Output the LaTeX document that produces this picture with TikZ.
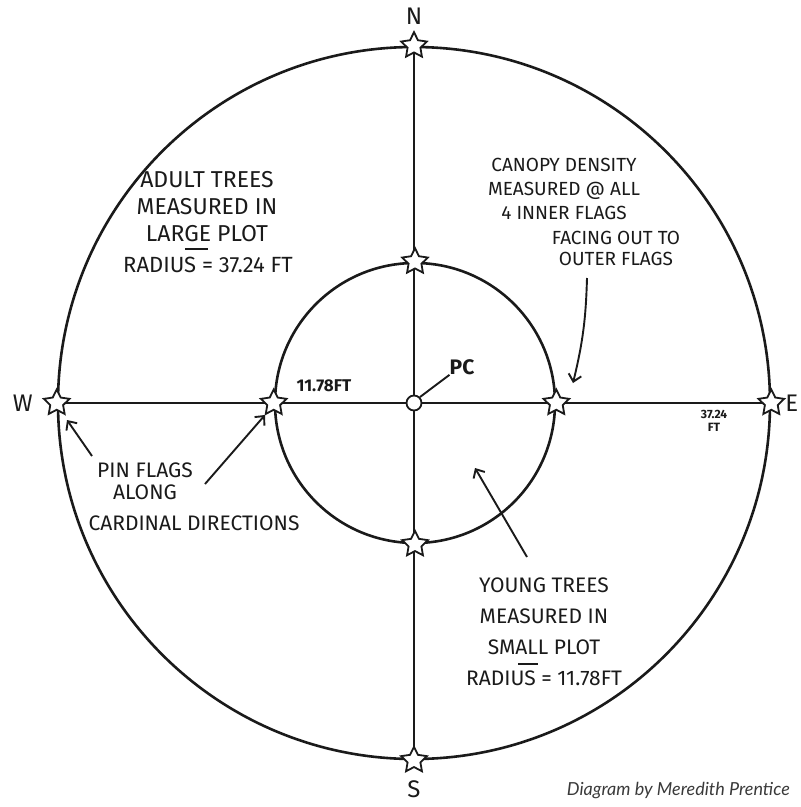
\documentclass[tikz,border=0pt]{standalone}
\usepackage{fontspec}
\setmainfont{Fira Sans}
\newfontfamily\footfont{Lato}
\usepackage{tikz}
\usetikzlibrary{arrows.meta,positioning,shapes.geometric}
\definecolor{plotink}{HTML}{1A1A1A}
\definecolor{plotgrey}{HTML}{3A3A3A}

\begin{document}
\begin{tikzpicture}[
  x=1pt,y=-1pt,
  ring/.style={draw=plotink,circle,line width=2.6pt,inner sep=0pt},
  axis/.style={draw=plotink,line width=1.9pt},
  flag/.style={draw=plotink,fill=white,star,star points=5,star point ratio=2.0,minimum size=27pt,inner sep=0pt,line width=1.8pt},
  note/.style={text=plotink,align=center,inner sep=0pt,font=\fontsize{21}{24}\selectfont},
  dir/.style={text=plotink,inner sep=0pt,font=\fontsize{24}{24}\selectfont},
  dim/.style={text=plotink,align=center,inner sep=0pt,font=\bfseries\fontsize{12}{13}\selectfont},
  arr/.style={-{Straight Barb[length=7pt,width=13pt]},line width=1.9pt,draw=plotink}
]
\useasboundingbox (0,0) rectangle (801,807);
% plot rings and cardinal lines
\node[ring,minimum size=712pt] (outer) at (414,403) {};
\node[ring,minimum size=280pt] (inner) at (415,403) {};
\draw[axis] (outer.north) -- (outer.south);
\draw[axis] (outer.west) -- (outer.east);
% pin flags
\node[flag] (on) at (outer.north) {};
\node[flag] (os) at (outer.south) {};
\node[flag] (ow) at (outer.west) {};
\node[flag] (oe) at (outer.east) {};
\node[flag] (inn) at (inner.north) {};
\node[flag] (ins) at (inner.south) {};
\node[flag] (inw) at (inner.west) {};
\node[flag] (ine) at (inner.east) {};
\node[draw=plotink,fill=white,circle,minimum size=15pt,inner sep=0pt,line width=1.8pt] (pc) at (414,403) {};
% directions
\node[dir,above=5pt of on] {N};
\node[dir,below=12pt of os] {S};
\node[dir,left=14pt of ow] {W};
\node[dir,right=4pt of oe] {E};
% radii and centre
\node[dim,font=\bfseries\fontsize{17}{17}\selectfont] (rsmall) at (324,386) {11.78FT};
\node[dim] (rlarge) at (714,421) {37.24\\FT};
\node[dir,font=\bfseries\fontsize{21}{21}\selectfont] (pclbl) at (462,367) {PC};
\draw[axis] (pclbl.south west) -- (pc.north east);
% notes
\node[note,font=\fontsize{23}{27}\selectfont] (adult) at (207,207) {ADULT TREES\\MEASURED IN\\LARGE PLOT};
\node[note,font=\fontsize{22}{22}\selectfont] (adultr) at (208,265) {RADIUS = 37.24 FT};
\draw[axis,line width=1.5pt] (185,249) -- (208,249);
\node[note,font=\fontsize{19}{24}\selectfont] (canopy) at (564,189) {CANOPY DENSITY\\MEASURED @ ALL\\4 INNER FLAGS};
\node[note,font=\fontsize{19}{21}\selectfont] (canopyb) at (616,248) {FACING OUT TO\\OUTER FLAGS};
\node[note,font=\fontsize{21}{22}\selectfont] (pins) at (145,481) {PIN FLAGS\\ALONG};
\node[note] (pinsb) at (194,523) {CARDINAL DIRECTIONS};
\node[note,font=\fontsize{21}{31}\selectfont] (young) at (544,632) {YOUNG TREES\\MEASURED IN\\SMALL PLOT\\RADIUS = 11.78FT};
\draw[axis,line width=1.5pt] (518,664) -- (538,664);
% arrows
\coordinate (cantail) at (587,278);
\coordinate (canhead) at (573,383);
\draw[arr] (cantail) to[bend left=6] (canhead);
\coordinate (pinhead1) at (67,420);
\coordinate (pintail1) at (92,456);
\draw[arr] (pintail1) -- (pinhead1);
\coordinate (pinhead2) at (265,415);
\coordinate (pintail2) at (205,484);
\draw[arr] (pintail2) -- (pinhead2);
\coordinate (younghead) at (475,468);
\coordinate (youngtail) at (527,557);
\draw[arr] (youngtail) -- (younghead);
% credit
\node[anchor=east,text=plotgrey,inner sep=0pt,font=\footfont\itshape\fontsize{18}{18}\selectfont] (credit) at (790,790) {Diagram by Meredith Prentice};
\end{tikzpicture}
\end{document}
